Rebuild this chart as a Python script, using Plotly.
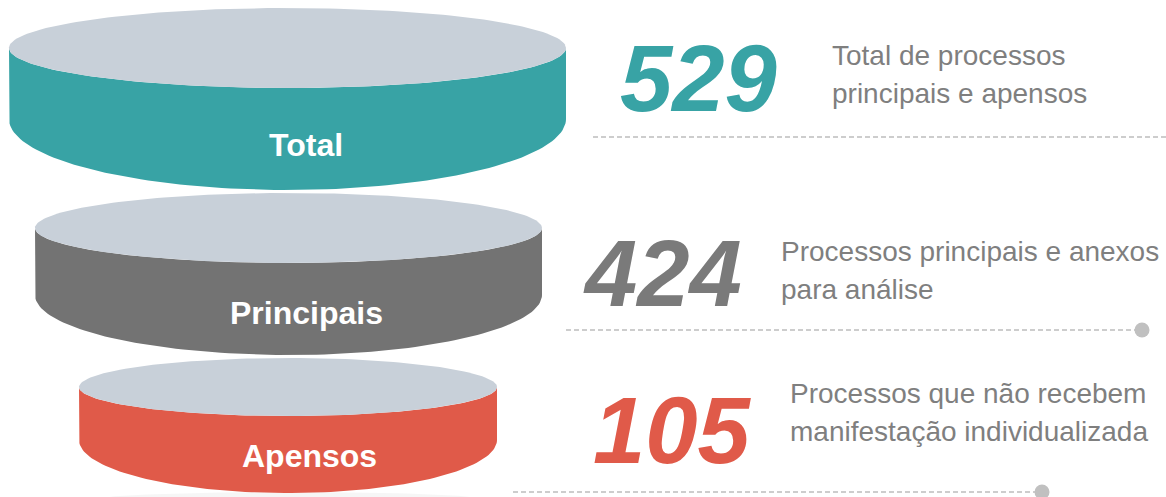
import numpy as np
import plotly.graph_objects as go

# ---- data ----
categories = ["Total", "Principais", "Apensos"]
values = [529, 424, 105]
desc_line1 = ["Total de processos", "Processos principais e anexos", "Processos que não recebem"]
desc_line2 = ["principais e apensos", "para análise", "manifestação individualizada"]
body_colors = ["#38A3A5", "#737373", "#E05A49"]
number_colors = ["#38A3A5", "#7A7A7A", "#E05A49"]
top_color = "#C8D0D9"

FONT = "Arial"

# ---- layout geometry (pixels) ----
cyl = [
    dict(xl=9, xr=566, yc=48, bt=40, ys=119, bb=71),
    dict(xl=35, xr=542, yc=228, bt=35, ys=295, bb=60),
    dict(xl=79, xr=497, yc=387, bt=29, ys=440, bb=53),
]
label_pos = [(306, 145), (306, 313), (309, 456)]
num_pos = [(698, 78), (662, 273), (672, 430)]
desc_pos = [(830, 55, 93), (779, 251, 289), (788, 393, 431)]
dash_lines = [(593, 1175, 137, False), (566, 1142, 330, True), (513, 1042, 492, True)]

fig = go.Figure()

t = np.linspace(0, 2 * np.pi, 120)
fig.add_trace(go.Scatter(x=290 + 190 * np.cos(t), y=499 + 7 * np.sin(t), fill="toself",
                         fillcolor="rgba(0,0,0,0.035)", line=dict(width=0), mode="lines",
                         hoverinfo="skip", showlegend=False))

for i, c in enumerate(cyl):
    cx = (c["xl"] + c["xr"]) / 2
    a = (c["xr"] - c["xl"]) / 2
    tt = np.linspace(0, np.pi, 100)
    bx = np.concatenate([[c["xl"], c["xl"]], cx - a * np.cos(tt), [c["xr"], c["xr"]],
                         cx + a * np.cos(tt)])
    by = np.concatenate([[c["yc"], c["ys"]], c["ys"] + c["bb"] * np.sin(tt), [c["ys"], c["yc"]],
                         c["yc"] + c["bt"] * np.sin(tt)])
    fig.add_trace(go.Scatter(x=bx, y=by, fill="toself", fillcolor=body_colors[i],
                             line=dict(width=0, color=body_colors[i]), mode="lines",
                             hoverinfo="skip", showlegend=False))
    te = np.linspace(0, 2 * np.pi, 200)
    fig.add_trace(go.Scatter(x=cx + a * np.cos(te), y=c["yc"] + c["bt"] * np.sin(te),
                             fill="toself", fillcolor=top_color,
                             line=dict(width=0, color=top_color), mode="lines",
                             hoverinfo="skip", showlegend=False))
    lx, ly = label_pos[i]
    fig.add_annotation(x=lx, y=ly, text="<b>" + categories[i] + "</b>", showarrow=False,
                       xanchor="center", yanchor="middle",
                       font=dict(family=FONT, size=32, color="white"))
    nx, ny = num_pos[i]
    fig.add_annotation(x=nx, y=ny, text="<b><i>" + str(values[i]) + "</i></b>", showarrow=False,
                       xanchor="center", yanchor="middle",
                       font=dict(family=FONT, size=94, color=number_colors[i]))
    dx, dy1, dy2 = desc_pos[i]
    for txt, yy in ((desc_line1[i], dy1), (desc_line2[i], dy2)):
        fig.add_annotation(x=dx, y=yy, text=txt, showarrow=False, xanchor="left", yanchor="middle",
                           font=dict(family=FONT, size=28, color="#7F7F7F"))

for x0, x1, y, dot in dash_lines:
    fig.add_trace(go.Scatter(x=[x0, x1], y=[y, y], mode="lines",
                             line=dict(color="#BDBDBD", width=1.3, dash="5px,3px"),
                             hoverinfo="skip", showlegend=False))
    if dot:
        fig.add_trace(go.Scatter(x=[x1], y=[y], mode="markers",
                                 marker=dict(size=15, color="#C0C0C0"),
                                 hoverinfo="skip", showlegend=False))

fig.update_layout(
    width=1166, height=497,
    margin=dict(l=0, r=0, t=0, b=0),
    paper_bgcolor="white", plot_bgcolor="white",
    font=dict(family=FONT),
    xaxis=dict(range=[0, 1166], visible=False, fixedrange=True),
    yaxis=dict(range=[497, 0], visible=False, fixedrange=True),
    showlegend=False,
)

fig.write_html("out.html", config={"displayModeBar": False},
               post_script="document.body.style.margin='0';document.body.style.overflow='hidden';")
